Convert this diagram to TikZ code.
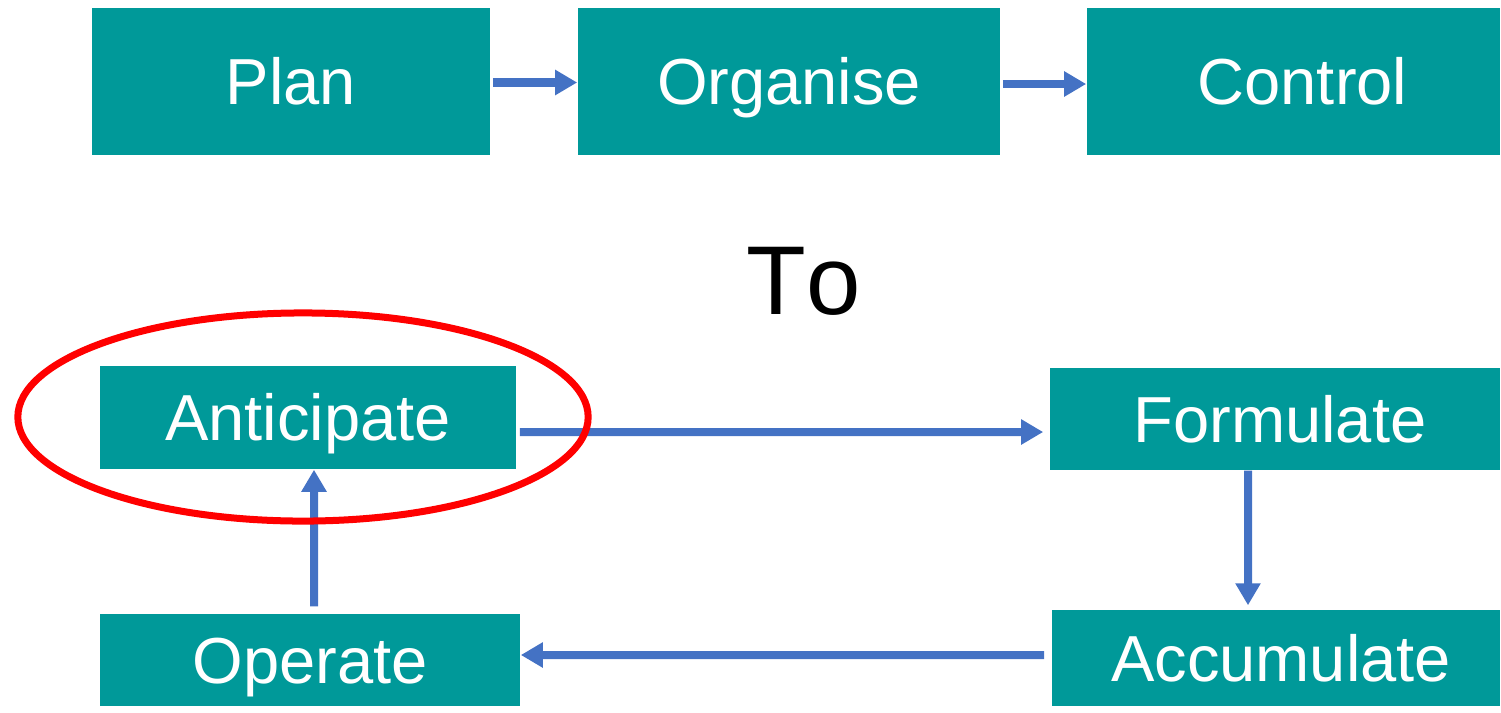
\documentclass[tikz,border=0pt]{standalone}
\usepackage{fontspec}
\setmainfont{Liberation Sans}
\usetikzlibrary{arrows.meta}
\definecolor{boxteal}{RGB}{0,153,153}
\definecolor{arrblue}{RGB}{68,114,196}
\definecolor{ringred}{RGB}{255,0,0}

\begin{document}
\begin{tikzpicture}[x=0.01cm,y=-0.01cm,
    stage/.style={fill=boxteal,text=white,inner sep=0pt,
        text height=13.2pt,text depth=0pt,
        font=\fontsize{18.5}{22}\selectfont},
    arr/.style={arrblue,line width=0.8mm,-{Triangle[length=2.2mm,width=2.4mm]}}]
    \useasboundingbox (0,0) rectangle (1501,712);
    % top row
    \node[stage,minimum width=3.98cm,minimum height=1.47cm] (plan) at (291,81.5) {Plan};
    \node[stage,minimum width=4.22cm,minimum height=1.47cm] (organise) at (789,81.5) {Organise};
    \node[stage,minimum width=4.13cm,minimum height=1.47cm] (control) at (1293.5,81.5) {\hspace*{0.18cm}Control};
    \draw[arr] ([xshift=0.2mm,yshift=-0.01cm]plan.east) -- ([yshift=-0.01cm]organise.west);
    \draw[arr] ([xshift=0.2mm,yshift=-0.025cm]organise.east) -- ([yshift=-0.025cm]control.west);
    % middle text
    \node[font=\fontsize{27.8}{32}\selectfont] (to) at (803.5,281) {T\kern0pt o};
    % cycle
    \node[stage,minimum width=4.16cm,minimum height=1.03cm] (anticipate) at (308,417.5) {Anticipate};
    \node[stage,minimum width=4.50cm,minimum height=1.02cm] (formulate) at (1275,419) {\hspace*{0.1cm}Formulate};
    \node[stage,minimum width=4.48cm,minimum height=0.96cm] (accumulate) at (1276,658) {\hspace*{0.1cm}Accumulate};
    \node[stage,minimum width=4.20cm,minimum height=0.92cm] (operate) at (310,660) {Operate};
    \draw[arr] ([xshift=0.3mm,yshift=-0.145cm]anticipate.east) -- ([xshift=-0.6mm,yshift=-0.13cm]formulate.west);
    \draw[arr] ([xshift=-0.27cm]formulate.south) -- ([xshift=-0.28cm,yshift=0.4mm]accumulate.north);
    \draw[arr] ([xshift=-0.7mm,yshift=0.03cm]accumulate.west) -- ([yshift=0.05cm]operate.east);
    \draw[arr] ([xshift=0.04cm,yshift=0.7mm]operate.north) -- ([xshift=0.06cm]anticipate.south);
    % highlight
    \draw[ringred,line width=0.7mm] (303,417) ellipse [x radius=2.85cm,y radius=1.04cm];
\end{tikzpicture}
\end{document}
